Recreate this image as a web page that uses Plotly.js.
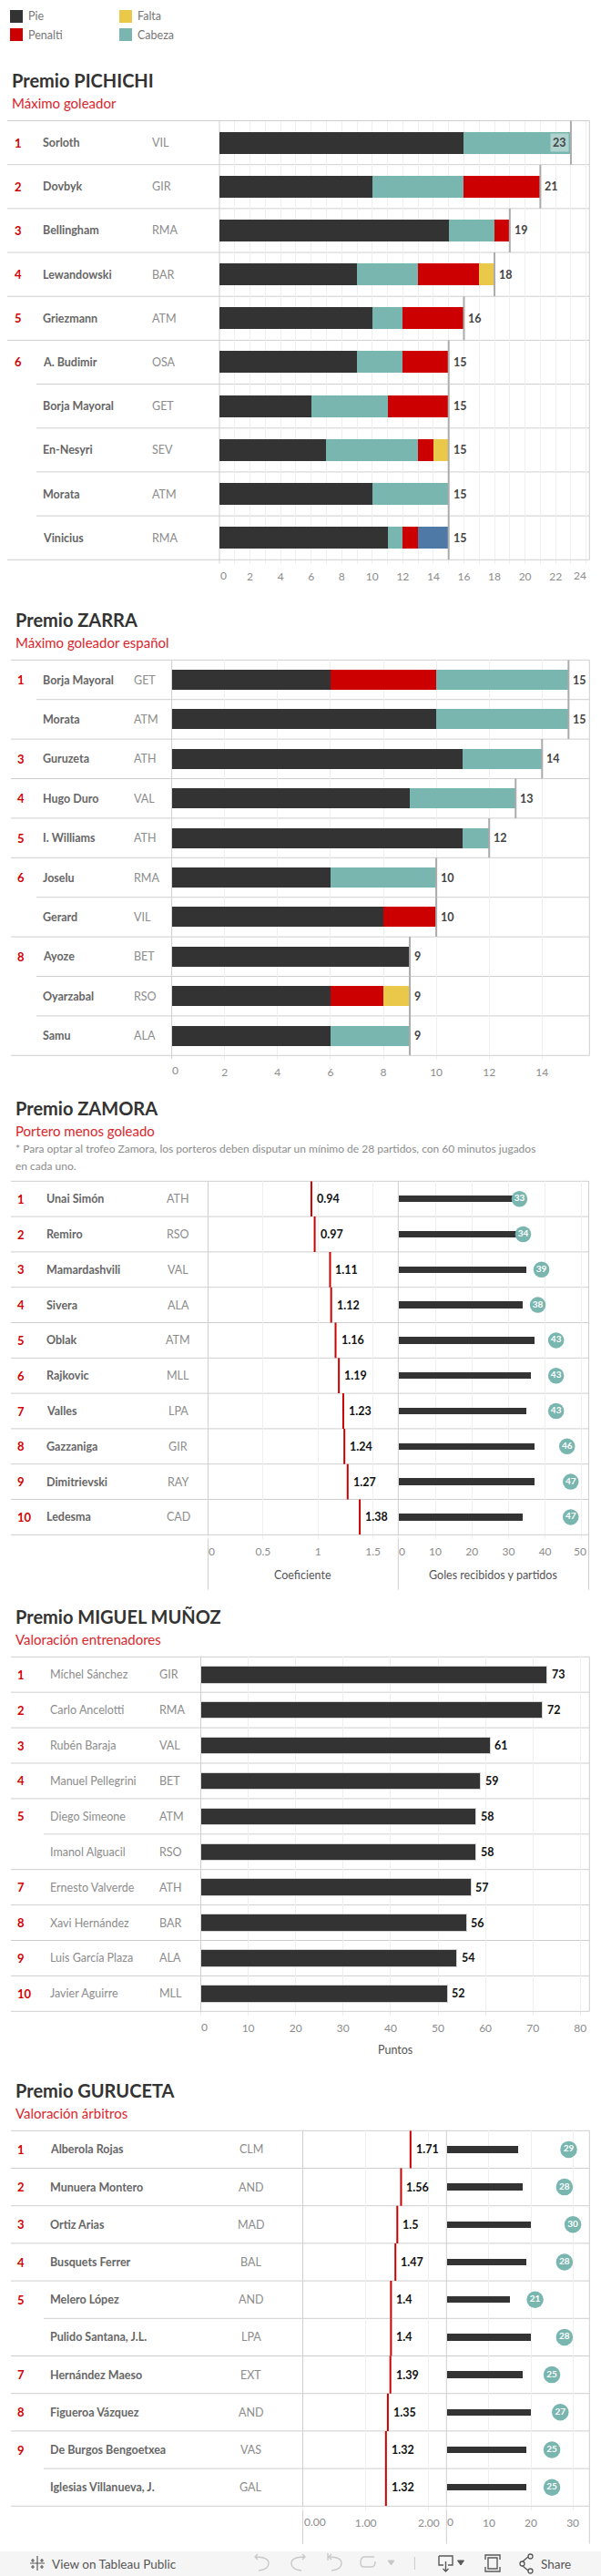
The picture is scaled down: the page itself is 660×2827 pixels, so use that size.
<!DOCTYPE html>
<html><head><meta charset="utf-8">
<script src="https://cdn.plot.ly/plotly-3.0.1.min.js"></script>
<style>html,body{margin:0;padding:0;background:#fff}#c{width:660px;height:2827px}</style>
</head><body><div id="c"></div>
<script>
/* ---------- data ---------- */
const legendLabels = ['Pie','Penalti','Falta','Cabeza'];

const pichichiRanks = ['1','2','3','4','5','6','','','',''];
const pichichiNames = ['Sorloth','Dovbyk','Bellingham','Lewandowski','Griezmann','A. Budimir','Borja Mayoral','En-Nesyri','Morata','Vinicius'];
const pichichiTeams = ['VIL','GIR','RMA','BAR','ATM','OSA','GET','SEV','ATM','RMA'];
const pichichiPie     = [16,10,15,9,10,9,6,7,10,11];
const pichichiCabeza  = [7,6,3,4,2,3,5,6,5,1];
const pichichiPenalti = [0,5,1,4,4,3,4,1,0,1];
const pichichiFalta   = [0,0,0,1,0,0,0,1,0,0];
const pichichiOtro    = [0,0,0,0,0,0,0,0,0,2];
const pichichiTotal   = [23,21,19,18,16,15,15,15,15,15];
const pichichiTicks   = [2,4,6,8,10,12,14,16,18,20,22];

const zarraRanks = ['1','','3','4','5','6','','8','',''];
const zarraNames = ['Borja Mayoral','Morata','Guruzeta','Hugo Duro','I. Williams','Joselu','Gerard','Ayoze','Oyarzabal','Samu'];
const zarraTeams = ['GET','ATM','ATH','VAL','ATH','RMA','VIL','BET','RSO','ALA'];
const zarraPie     = [6,10,11,9,11,6,8,9,6,6];
const zarraPenalti = [4,0,0,0,0,0,2,0,2,0];
const zarraFalta   = [0,0,0,0,0,0,0,0,1,0];
const zarraCabeza  = [5,5,3,4,1,4,0,0,0,3];
const zarraTotal   = [15,15,14,13,12,10,10,9,9,9];
const zarraTicks   = [2,4,6,8,10,12,14];

const zamoraRanks = ['1','2','3','4','5','6','7','8','9','10'];
const zamoraNames = ['Unai Simón','Remiro','Mamardashvili','Sivera','Oblak','Rajkovic','Valles','Gazzaniga','Dimitrievski','Ledesma'];
const zamoraTeams = ['ATH','RSO','VAL','ALA','ATM','MLL','LPA','GIR','RAY','CAD'];
const zamoraCoef    = [0.94,0.97,1.11,1.12,1.16,1.19,1.23,1.24,1.27,1.38];
const zamoraPartidos= [35,35,35,34,37,36,35,37,37,34];
const zamoraGoles   = [33,34,39,38,43,43,43,46,47,47];

const munozRanks = ['1','2','3','4','5','','7','8','9','10'];
const munozNames = ['Míchel Sánchez','Carlo Ancelotti','Rubén Baraja','Manuel Pellegrini','Diego Simeone','Imanol Alguacil','Ernesto Valverde','Xavi Hernández','Luis García Plaza','Javier Aguirre'];
const munozTeams = ['GIR','RMA','VAL','BET','ATM','RSO','ATH','BAR','ALA','MLL'];
const munozPuntos= [73,72,61,59,58,58,57,56,54,52];

const gurucetaRanks = ['1','2','3','4','5','','7','8','9',''];
const gurucetaNames = ['Alberola Rojas','Munuera Montero','Ortiz Arias','Busquets Ferrer','Melero López','Pulido Santana, J.L.','Hernández Maeso','Figueroa Vázquez','De Burgos Bengoetxea','Iglesias Villanueva, J.'];
const gurucetaTeams = ['CLM','AND','MAD','BAL','AND','LPA','EXT','AND','VAS','GAL'];
const gurucetaCoef  = [1.71,1.56,1.5,1.47,1.4,1.4,1.39,1.35,1.32,1.32];
const gurucetaPartidos=[17,18,20,19,15,20,18,20,19,19];
const gurucetaValor = [29,28,30,28,21,28,25,27,25,25];

/* ---------- style ---------- */
const W=660,H=2827;
const DARK='#333333',RED='#cc0000',TEAL='#79b6af',YEL='#e9c84a',BLUE='#4e79a7';
const RULE='#cfcfcf',GRID='#efefef',REF='#ababab';
const FONT='Lato, "Open Sans", sans-serif', LIGHT=FONT;
const px=x=>x/W, py=y=>1-y/H;

const traces=[],shapes=[],annotations=[],layout={};
let axisN=0;

function text(x,y,s,o={}){
  annotations.push({xref:'paper',yref:'paper',x:px(x),y:py(y),text:s,showarrow:false,
    xanchor:o.anchor||'left',yanchor:'middle',borderpad:0,
    font:{family:o.family||FONT,size:o.size||12,color:o.color||'#666',weight:o.weight||400}});
}
function hline(x0,x1,y,color=RULE,w=1){shapes.push({type:'line',xref:'paper',yref:'paper',x0:px(x0),x1:px(x1),y0:py(y),y1:py(y),line:{color,width:w},layer:'below'});}
function vline(x,y0,y1,color=RULE,w=1){shapes.push({type:'line',xref:'paper',yref:'paper',x0:px(x),x1:px(x),y0:py(y0),y1:py(y1),line:{color,width:w},layer:'below'});}
function rect(x0,y0,x1,y1,fill){shapes.push({type:'rect',xref:'paper',yref:'paper',x0:px(x0),x1:px(x1),y0:py(y0),y1:py(y1),fillcolor:fill,line:{width:0},layer:'below'});}
function path(pts,color,w=1.4,fill){
  const d=pts.replace(/(-?[\d.]+),(-?[\d.]+)/g,(m,a,b)=>px(+a)+' '+py(+b));
  shapes.push({type:'path',xref:'paper',yref:'paper',path:d,line:{color,width:w},fillcolor:fill||'rgba(0,0,0,0)',layer:'above'});
}

function panel(o){
  axisN++;
  const s=axisN===1?'':String(axisN);
  const xa='x'+s, ya='y'+s;
  layout['xaxis'+s]={domain:[px(o.left),px(o.right)],range:[0,(o.right-o.left)/o.unit],anchor:ya,
    tickmode:'array',tickvals:o.grid,ticktext:o.grid.map(v=>o.labels&&o.labels.has(v)?o.fmt(v):''),tickangle:0,
    showgrid:true,gridcolor:GRID,gridwidth:1,zeroline:false,showline:false,
    ticks:'outside',ticklen:4,tickcolor:GRID,tickwidth:1,ticklabelstandoff:o.standoff,
    tickfont:{family:LIGHT,size:12,color:'#8c8c8c'},fixedrange:true};
  layout['yaxis'+s]={domain:[py(o.bottom),py(o.top)],range:[o.n,0],anchor:xa,showgrid:false,zeroline:false,
    showticklabels:false,ticks:'',showline:false,fixedrange:true};
  return {xa,ya,rowH:(o.bottom-o.top)/o.n,n:o.n};
}
function rows(ax,ranks,names,teams,o){
  names.forEach((nm,i)=>{
    const yc=o.top+(i+0.5)*(o.bottom-o.top)/names.length;
    if(ranks[i]) text(o.rankX,yc,ranks[i],{color:'#d40000',weight:700,size:13});
    text(o.nameX,yc,nm,{color:o.nameColor||'#666',weight:o.nameWeight||700,size:o.nameSize||12.5,family:o.nameFamily});
    text(o.teamX,yc,teams[i],{color:'#8c8c8c',family:LIGHT,size:12.5,anchor:o.teamAnchor});
  });
  const L=o.lineL,R=o.lineR;
  for(let i=0;i<=names.length;i++){
    const y=o.top+i*(o.bottom-o.top)/names.length;
    const partial=i>0&&i<names.length&&!ranks[i];
    hline(partial?o.tieL:L,R,y);
  }
}
function edgeTick(ax,val,str,y,shift){
  annotations.push({xref:ax.xa,yref:'paper',x:val,y:py(y),text:str,showarrow:false,xanchor:'center',yanchor:'middle',
    xshift:shift,borderpad:0,font:{family:LIGHT,size:12,color:'#8c8c8c'}});
}
function title(y1,y2,t,sub,x){
  text(x,y1,t,{size:20,weight:700,color:'#333'});
  text(x,y2,sub,{size:15,color:'#d9262c'});
}
function barTrace(ax,vals,color,name,h,line){
  traces.push({type:'bar',orientation:'h',xaxis:ax.xa,yaxis:ax.ya,y:vals.map((_,i)=>i+0.5),x:vals,width:h/ax.rowH,
    marker:{color,line:line||{width:0}},name,hoverinfo:'skip',showlegend:false});
}
function refLines(ax,vals,color,w){
  vals.forEach((v,i)=>shapes.push({type:'line',xref:ax.xa,yref:ax.ya,x0:v,x1:v,y0:i,y1:i+1,line:{color,width:w},layer:'above'}));
}
function valueLabels(ax,vals,strs,o={}){
  vals.forEach((v,i)=>{
    const inside=o.inside&&o.inside(i);
    annotations.push({xref:ax.xa,yref:ax.ya,x:v,y:i+0.5,text:strs[i],showarrow:false,
      xanchor:inside?'right':'left',yanchor:'middle',xshift:inside?-2:(o.shift||4),borderpad:inside?2:0,
      bgcolor:inside?'rgba(255,255,255,0.4)':'rgba(0,0,0,0)',
      font:{family:FONT,size:o.size||12.5,weight:700,color:o.color||'#444'}});
  });
}
function circles(ax,vals,size){
  traces.push({type:'scatter',mode:'markers+text',xaxis:ax.xa,yaxis:ax.ya,x:vals,y:vals.map((_,i)=>i+0.5),
    marker:{color:TEAL,size:size},text:vals.map(String),textposition:'middle center',
    textfont:{family:FONT,size:10,color:'#fff',weight:700},cliponaxis:false,hoverinfo:'skip',showlegend:false});
}

/* ---------- legend ---------- */
[[11,11,DARK,0],[11,31,RED,1],[131,11,YEL,2],[131,31,TEAL,3]].forEach(([x,y,c,k])=>{
  rect(x,y,x+14,y+14,c);
  text(x+19,y+7,legendLabels[k],{size:12.5,color:'#777'});
});

/* ---------- Premio PICHICHI ---------- */
title(88,113,'Premio PICHICHI','Máximo goleador',12);
{
  const o={left:241,right:647.3,top:132.5,bottom:614.3,unit:16.78,n:10,
    grid:[0,1,2,3,4,5,6,7,8,9,10,11,12,13,14,15,16,17,18,19,20,21,22,23,24],
    labels:new Set(pichichiTicks),fmt:String,standoff:3};
  const ax=panel(o);
  rows(ax,pichichiRanks,pichichiNames,pichichiTeams,{top:o.top,bottom:o.bottom,rankX:14.5,nameX:46,teamX:166,lineL:8,lineR:647.3,tieL:40});
  barTrace(ax,pichichiPie,DARK,'Pie',24);
  barTrace(ax,pichichiCabeza,TEAL,'Cabeza',24);
  barTrace(ax,pichichiPenalti,RED,'Penalti',24);
  barTrace(ax,pichichiFalta,YEL,'Falta',24);
  barTrace(ax,pichichiOtro,BLUE,'Otro',24);
  refLines(ax,pichichiTotal,REF,2);
  valueLabels(ax,pichichiTotal,pichichiTotal.map(String),{inside:i=>i===0});
  vline(o.left,o.top,o.bottom+4); vline(o.right,o.top,o.bottom);
  edgeTick(ax,0,'0',631,4); edgeTick(ax,24,'24',631,-6.5);
}

/* ---------- Premio ZARRA ---------- */
title(680,705,'Premio ZARRA','Máximo goleador español',16);
{
  const o={left:188.6,right:647.3,top:724.3,bottom:1158.3,unit:29.05,n:10,
    grid:zarraTicks,labels:new Set(zarraTicks),fmt:String,standoff:3};
  const ax=panel(o);
  rows(ax,zarraRanks,zarraNames,zarraTeams,{top:o.top,bottom:o.bottom,rankX:18,nameX:46,teamX:146,lineL:12,lineR:647.3,tieL:40});
  barTrace(ax,zarraPie,DARK,'Pie',22);
  barTrace(ax,zarraPenalti,RED,'Penalti',22);
  barTrace(ax,zarraFalta,YEL,'Falta',22);
  barTrace(ax,zarraCabeza,TEAL,'Cabeza',22);
  refLines(ax,zarraTotal,REF,2);
  valueLabels(ax,zarraTotal,zarraTotal.map(String));
  vline(o.left,o.top,o.bottom+4); vline(o.right,o.top,o.bottom);
  edgeTick(ax,0,'0',1175,4);
}

/* ---------- Premio ZAMORA ---------- */
title(1216,1241,'Premio ZAMORA','Portero menos goleado',16);
text(16,1261,'* Para optar al trofeo Zamora, los porteros deben disputar un mínimo de 28 partidos, con 60 minutos jugados',{size:12,color:'#8c8c8c'});
text(16,1279,'en cada uno.',{size:12,color:'#8c8c8c'});
{
  const top=1296.3,bottom=1684.3;
  const a={left:228.5,right:437.3,top,bottom,unit:120.7,n:10,grid:[0,0.5,1,1.5],labels:new Set([0.5,1,1.5]),fmt:String,standoff:3};
  const A=panel(a);
  const b={left:437.8,right:646.5,top,bottom,unit:4.02,n:10,grid:[0,10,20,30,40,50],labels:new Set([10,20,30,40]),fmt:String,standoff:3};
  const B=panel(b);
  rows(A,zamoraRanks,zamoraNames,zamoraTeams,{top,bottom,rankX:18,nameX:50,teamX:195.7,teamAnchor:'center',lineL:12,lineR:646.5,tieL:48});
  refLines(A,zamoraCoef,RED,2);
  valueLabels(A,zamoraCoef,zamoraCoef.map(v=>v.toFixed(2)),{color:'#111',shift:5});
  barTrace(B,zamoraPartidos,DARK,'Partidos',7.5);
  circles(B,zamoraGoles,17.5);
  vline(228.5,top,1744.7); vline(437.3,top,1744.7); vline(646.5,top,1744.7);
  edgeTick(A,0,'0',1702,4); edgeTick(B,0,'0',1702,4); edgeTick(B,50,'50',1702,-2);
  text(332.5,1729,'Coeficiente',{anchor:'center',color:'#555',size:12.5});
  text(541.7,1729,'Goles recibidos y partidos',{anchor:'center',color:'#555',size:12.5});
}

/* ---------- Premio MIGUEL MUÑOZ ---------- */
title(1774,1799,'Premio MIGUEL MUÑOZ','Valoración entrenadores',16);
{
  const o={left:220.5,right:647.3,top:1818.3,bottom:2207.3,unit:5.21,n:10,
    grid:[0,10,20,30,40,50,60,70,80],labels:new Set([10,20,30,40,50,60,70,80]),fmt:String,standoff:3};
  const ax=panel(o);
  rows(ax,munozRanks,munozNames,munozTeams,{top:o.top,bottom:o.bottom,rankX:18,nameX:54.3,teamX:174,lineL:12,lineR:647.3,tieL:48,nameWeight:400,nameColor:'#8c8c8c'});
  barTrace(ax,munozPuntos,DARK,'Puntos',18.5,{color:'#d4d4d4',width:1});
  valueLabels(ax,munozPuntos,munozPuntos.map(String),{color:'#111'});
  vline(o.left,o.top,o.bottom+4); vline(o.right,o.top,o.bottom);
  edgeTick(ax,0,'0',2224,4);
  text(433.5,2249,'Puntos',{anchor:'center',color:'#555',size:12.5});
}

/* ---------- Premio GURUCETA ---------- */
title(2294,2319,'Premio GURUCETA','Valoración árbitros',16);
{
  const top=2338.3,bottom=2750.3;
  const a={left:332.5,right:490.3,top,bottom,unit:69.2,n:10,grid:[0,1,2],labels:new Set([1,2]),fmt:v=>v.toFixed(2),standoff:3};
  const A=panel(a);
  const b={left:490.8,right:647.3,top,bottom,unit:4.61,n:10,grid:[0,10,20,30],labels:new Set([10,20,30]),fmt:String,standoff:3};
  const B=panel(b);
  rows(A,gurucetaRanks,gurucetaNames,gurucetaTeams,{top,bottom,rankX:18,nameX:54.3,teamX:275.7,teamAnchor:'center',lineL:12,lineR:647.3,tieL:48});
  refLines(A,gurucetaCoef,RED,2);
  valueLabels(A,gurucetaCoef,gurucetaCoef.map(String),{color:'#111',shift:5});
  barTrace(B,gurucetaPartidos,DARK,'Partidos',7.5);
  circles(B,gurucetaValor,18.5);
  vline(332.5,top,2791.7); vline(490.3,top,2791.7); vline(647.3,top,2791.7);
  edgeTick(A,0,'0.00',2767,13.5); edgeTick(B,0,'0',2767,4);
}

/* ---------- Tableau footer ---------- */
rect(0,2800,660,2827,'#f5f5f5');
text(55.5,2813.5,'View on Tableau Public',{size:13.5,color:'#555'});
text(592.5,2813.5,'Share',{size:13.5,color:'#555'});
const off='#c9c9c9',on='#5a5a5a';
path('M41,2805 L41,2821 M33,2813 L49,2813 M36,2808 L36,2812 M34,2810 L38,2810 M46,2808 L46,2812 M44,2810 L48,2810 M36,2815 L36,2819 M34,2817 L38,2817 M46,2815 L46,2819 M44,2817 L48,2817',on,1.2);
path('M283,2803 L280,2806 L283,2809 M280,2806 Q295,2806 295,2813 Q295,2820 284,2821',off);
path('M332,2803 L335,2806 L332,2809 M335,2806 Q320,2806 320,2813 Q320,2820 331,2821',off);
path('M360,2802 L360,2810 M364,2803 L361,2806 L364,2809 M361,2806 Q375,2806 375,2813 Q375,2820 364,2821',off);
path('M411,2806 L400,2806 Q396,2806 396,2813 Q396,2817 400,2817 L408,2817 Q412,2817 412,2811',off);
path('M426,2810 L433,2810 L429.5,2815 Z',off,1,off);
path('M455.4,2806 L455.4,2820',off,1);
path('M482,2805 L497,2805 L497,2815 L492,2815 M487,2815 L482,2815 L482,2805 M489.5,2811 L489.5,2822 M486.5,2819 L489.5,2822 L492.5,2819',on);
path('M502.5,2810 L509.5,2810 L506,2815 Z',on,1,on);
path('M533,2809 L533,2804 L549,2804 L549,2809 M533,2817 L533,2822 L549,2822 L549,2817 M536,2807 L546,2807 L546,2819 L536,2819 Z',on);
path('M574,2811 L580,2806 M574,2816 L580,2821',on);
[[571,2811],[580,2803],[580,2819]].forEach(([x,y])=>shapes.push({type:'circle',xref:'paper',yref:'paper',x0:px(x),x1:px(x+5),y0:py(y),y1:py(y+5),line:{color:on,width:1.3},fillcolor:'#f5f5f5'}));

Object.assign(layout,{width:W,height:H,margin:{l:0,r:0,t:0,b:0},paper_bgcolor:'#fff',plot_bgcolor:'rgba(0,0,0,0)',
  barmode:'stack',showlegend:false,hovermode:false,shapes,annotations,font:{family:FONT}});
Plotly.newPlot('c',traces,layout,{staticPlot:true,displayModeBar:false,responsive:false});
</script></body></html>
